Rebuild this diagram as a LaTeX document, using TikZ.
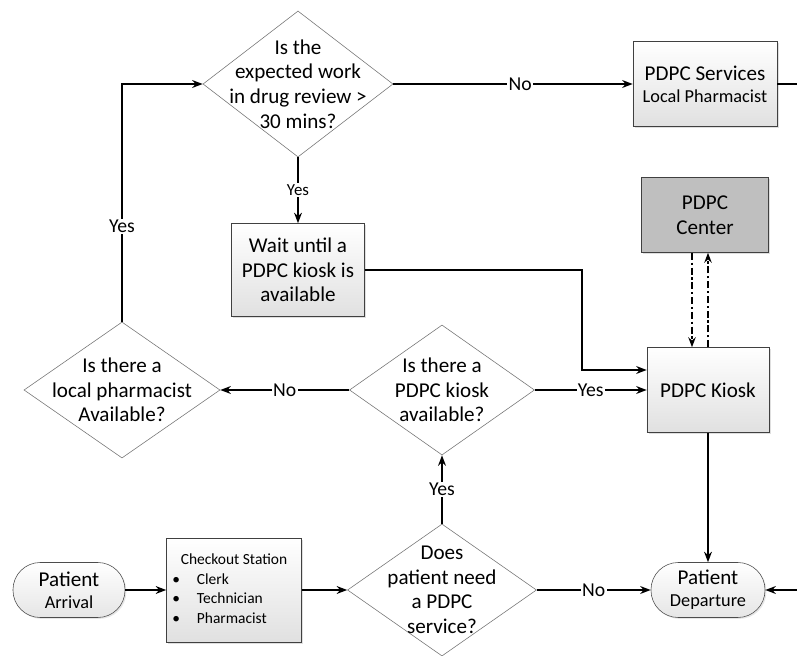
\documentclass[tikz,border=0pt]{standalone}
\usepackage{fontspec}
\setmainfont{Carlito}
\usepackage{tikz}
\usetikzlibrary{arrows.meta, positioning, calc, shapes.geometric, shadows}

\begin{document}
\begin{tikzpicture}[x=0.025cm, y=-0.025cm, >=Stealth,
    box/.style={draw=black!75, top color=white, bottom color=black!12,
      drop shadow={shadow xshift=1.2pt, shadow yshift=-1.2pt, opacity=0.25},
      align=center, font=\fontsize{15}{17.5}\selectfont, inner sep=2pt},
    decision/.style={diamond, draw=black!55, fill=white, inner sep=0pt},
    terminal/.style={draw=black!70, rounded corners=0.68cm, top color=white,
      bottom color=black!10, minimum height=1.375cm, align=center,
      drop shadow={shadow xshift=1pt, shadow yshift=-1pt, opacity=0.2},
      font=\fontsize{15}{17.5}\selectfont},
    dtext/.style={align=center, font=\fontsize{15}{17.5}\selectfont},
    lbl/.style={fill=white, inner sep=1pt, font=\fontsize{14}{16}\selectfont},
    flow/.style={->, line width=1pt},
    link/.style={->, line width=0.9pt, dash pattern=on 5pt off 2pt on 1.5pt off 2pt}]
  \useasboundingbox (0,0) rectangle (797,656);
  % Decisions
  \node[decision, minimum width=4.75cm, minimum height=3.65cm,
    label={[dtext]center:Is the\\expected work\\in drug review >\\30 mins?}]
    (review) at (298,84) {};
  \node[decision, minimum width=4.9cm, minimum height=3.4cm,
    label={[dtext]center:Is there a\\local pharmacist\\Available?}]
    (local) at (122,390) {};
  \node[decision, minimum width=4.625cm, minimum height=3.25cm,
    label={[dtext]center:Is there a\\PDPC kiosk\\available?}]
    (avail) at (442,390) {};
  \node[decision, minimum width=4.725cm, minimum height=3.3cm,
    label={[dtext]center:Does\\patient need\\a PDPC\\service?}]
    (need) at (442,590) {};
  % Boxes
  \node[box, minimum width=3.6cm, minimum height=2.125cm] (services) at (705,84)
    {PDPC Services\\[-2pt]{\fontsize{13}{15}\selectfont Local Pharmacist}};
  \node[box, minimum width=3.325cm, minimum height=2.325cm] (wait) at (298,270)
    {Wait until a\\PDPC kiosk is\\available};
  \node[box, fill=black!25, top color=black!25, bottom color=black!25,
    minimum width=3.175cm, minimum height=1.875cm] (center) at (705,215)
    {PDPC\\Center};
  \node[box, minimum width=3.05cm, minimum height=2.125cm] (kiosk) at (708,390)
    {PDPC Kiosk};
  \node[box, minimum width=3.375cm, minimum height=2.6cm] (checkout) at (234,590)
    {\fontsize{11}{14}\selectfont
     \begin{tabular}{@{}l@{\hspace{12pt}}l@{}}
       \multicolumn{2}{@{\hspace{6pt}}l}{Checkout Station}\\
       \textbullet & Clerk\\
       \textbullet & Technician\\
       \textbullet & Pharmacist
     \end{tabular}};
  % Terminals
  \node[terminal, minimum width=2.8cm] (arrival) at (69,590)
    {Patient\\[-2pt]{\fontsize{13}{15}\selectfont Arrival}};
  \node[terminal, minimum width=2.85cm] (departure) at (708,590)
    {Patient\\[-2pt]{\fontsize{13}{15}\selectfont Departure}};
  % Connectors
  \draw[flow] (review.east) -- node[lbl, pos=0.53] {No} (services.west);
  \draw[flow] (review.south) -- node[lbl, pos=0.5, font=\fontsize{12}{14}\selectfont] {Yes} (wait.north);
  \draw[flow] (wait.east) -- ++(217,0) |- ([yshift=0.5cm]kiosk.west);
  \draw[flow] (avail.east) -- node[lbl, pos=0.5] {Yes} (kiosk.west);
  \draw[flow] (avail.west) -- node[lbl, pos=0.5] {No} (local.east);
  \draw[flow] (local.north) |- node[lbl, pos=0.2] {Yes} (review.west);
  \draw[flow] (need.north) -- node[lbl, pos=0.5] {Yes} (avail.south);
  \draw[flow] (need.east) -- node[lbl, pos=0.5] {No} (departure.west);
  \draw[flow] (arrival.east) -- (checkout.west);
  \draw[flow] (checkout.east) -- (need.west);
  \draw[flow] (kiosk.south) -- (departure.north);
  \draw[flow] (services.east) -- ++(40,0) |- (departure.east);
  % Kiosk <-> Center
  \draw[link] ([xshift=-0.4cm]kiosk.north |- center.south) -- ([xshift=-0.4cm]kiosk.north);
  \draw[link] (kiosk.north) -- (kiosk.north |- center.south);
\end{tikzpicture}
\end{document}
